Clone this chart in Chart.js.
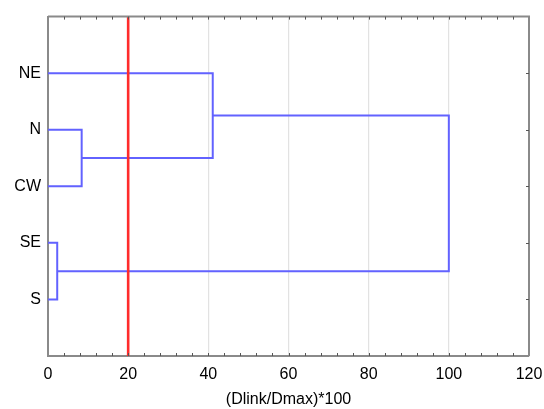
<!DOCTYPE html>
<html>
<head>
<meta charset="utf-8">
<script src="https://cdn.jsdelivr.net/npm/chart.js@4.4.1/dist/chart.umd.min.js"></script>
<style>
html,body{margin:0;padding:0;background:#fff;}
#wrap{width:544px;height:409px;position:relative;}
</style>
</head>
<body>
<div id="wrap"><canvas id="c" width="544" height="409"></canvas></div>
<script>
// Leaves (top to bottom)
const leaves = ['NE', 'N', 'CW', 'SE', 'S'];
// Linkage: node indices 0..4 are leaves, each merge creates node 5, 6, 7, 8
const mergeA = [1, 3, 0, 7];
const mergeB = [2, 4, 5, 6];
const mergeHeight = [8.4, 2.3, 41.1, 100];
const cutLevel = 20;
const xTicks = [0, 20, 40, 60, 80, 100, 120];
const xTitle = '(Dlink/Dmax)*100';

// Build node positions
const nodeX = leaves.map(() => 0);
const nodeY = leaves.map((_, i) => i + 1);
const segments = [];
for (let i = 0; i < mergeHeight.length; i++) {
  const a = mergeA[i], b = mergeB[i], h = mergeHeight[i];
  segments.push([
    {x: nodeX[a], y: nodeY[a]},
    {x: h, y: nodeY[a]},
    {x: h, y: nodeY[b]},
    {x: nodeX[b], y: nodeY[b]}
  ]);
  nodeX.push(h);
  nodeY.push((nodeY[a] + nodeY[b]) / 2);
}

const BLUE = '#6262ff';
const RED = '#ff2b2b';
const datasets = segments.map(pts => ({
  data: pts, showLine: true, borderColor: BLUE, borderWidth: 2,
  pointRadius: 0, fill: false, order: 1, tension: 0
}));
datasets.push({
  data: [{x: cutLevel, y: 0}, {x: cutLevel, y: leaves.length + 1}],
  showLine: true, borderColor: RED, borderWidth: 2.6, pointRadius: 0, order: 0
});

const FONT = 'Liberation Sans, Arial, sans-serif';
const frame = {
  id: 'frame',
  afterDraw(chart) {
    const {ctx, chartArea: a, scales: {x, y}} = chart;
    ctx.save();
    ctx.strokeStyle = '#8a8a8a';
    ctx.lineWidth = 2;
    ctx.beginPath();
    ctx.moveTo(a.left, a.top); ctx.lineTo(a.right, a.top); ctx.lineTo(a.right, a.bottom);
    ctx.stroke();
    ctx.strokeStyle = '#555';
    ctx.lineWidth = 1;
    ctx.beginPath();
    for (let v = 4; v < 120; v += 4) {
      const px = Math.round(x.getPixelForValue(v)) + 0.5;
      ctx.moveTo(px, a.top); ctx.lineTo(px, a.top + 3);
      ctx.moveTo(px, a.bottom); ctx.lineTo(px, a.bottom - 3);
    }
    for (let i = 1; i <= leaves.length; i++) {
      const py = Math.round(y.getPixelForValue(i)) + 0.5;
      ctx.moveTo(a.right, py); ctx.lineTo(a.right - 3, py);
    }
    ctx.stroke();
    ctx.restore();
  }
};

new Chart(document.getElementById('c'), {
  type: 'scatter',
  data: {datasets},
  options: {
    responsive: false,
    animation: false,
    layout: {padding: {left: 0, right: 15, top: 15, bottom: 0}},
    plugins: {legend: {display: false}, tooltip: {enabled: false}},
    scales: {
      x: {
        type: 'linear', min: 0, max: 120,
        afterBuildTicks: s => { s.ticks = xTicks.map(v => ({value: v})); },
        afterFit: s => { s.height = 53; s.paddingLeft = 0; s.paddingRight = 0; },
        ticks: {color: '#000', font: {family: FONT, size: 16}, padding: 9, maxRotation: 0},
        grid: {
          color: c => (c.tick && c.tick.value > 20 && c.tick.value < 120) ? '#e2e2e2' : 'rgba(0,0,0,0)',
          lineWidth: 1.2, drawTicks: false
        },
        border: {display: true, color: '#8a8a8a', width: 2},
        title: {display: true, text: xTitle, color: '#000', font: {family: FONT, size: 16}, padding: {top: 5, bottom: 0}}
      },
      y: {
        type: 'linear', min: 0, max: leaves.length + 1, reverse: true,
        afterBuildTicks: s => { s.ticks = leaves.map((_, i) => ({value: i + 1})); },
        afterFit: s => { s.width = 48; },
        ticks: {color: '#000', font: {family: FONT, size: 16}, padding: 7, callback: v => leaves[v - 1] || ''},
        grid: {display: false, drawTicks: false},
        border: {display: true, color: '#8a8a8a', width: 2}
      }
    }
  },
  plugins: [frame]
});
</script>
</body>
</html>
